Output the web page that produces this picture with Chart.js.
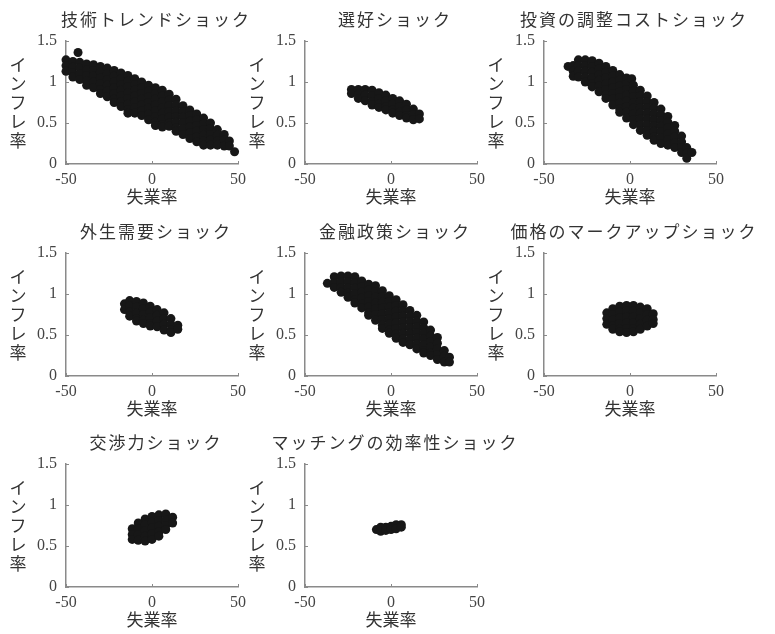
<!DOCTYPE html>
<html>
<head>
<meta charset="utf-8">
<script src="https://cdn.jsdelivr.net/npm/chart.js@4.4.1/dist/chart.umd.min.js"></script>
<style>
  body { margin: 0; background: #fff; overflow: hidden; }
  #wrap { position: relative; width: 775px; height: 634px; }
  canvas { position: absolute; }
</style>
</head>
<body>
<div id="wrap"></div>
<script>
// panel titles, in reading order
var titles = ['技術トレンドショック', '選好ショック', '投資の調整コストショック',
    '外生需要ショック', '金融政策ショック', '価格のマークアップショック',
    '交渉力ショック', 'マッチングの効率性ショック'];
var xLabel = '失業率';
var yLabel = ['イ', 'ン', 'フ', 'レ', '率'];
var xTicks = [-50, 0, 50];
var yTicks = [0, 0.5, 1, 1.5];

// scatter clouds: [unemployment, [inflation values...]]
var techTrend = [
    [-50, [1.27, 1.20, 1.13]], [-46, [1.25, 1.18, 1.11, 1.06]], [-43, [1.36]],
    [-42, [1.24, 1.17, 1.10, 1.03]], [-38, [1.22, 1.15, 1.08, 1.01, 0.96]],
    [-34, [1.21, 1.14, 1.07, 1.00, 0.93]], [-30, [1.19, 1.12, 1.05, 0.98, 0.91, 0.86]],
    [-26, [1.17, 1.10, 1.03, 0.96, 0.89, 0.82]], [-22, [1.14, 1.07, 1.00, 0.93, 0.86, 0.79, 0.75]],
    [-18, [1.11, 1.04, 0.97, 0.90, 0.83, 0.76, 0.70]], [-14, [1.08, 1.01, 0.94, 0.87, 0.80, 0.73, 0.66, 0.62]],
    [-10, [1.04, 0.97, 0.90, 0.83, 0.76, 0.69, 0.62]], [-6, [1.00, 0.93, 0.86, 0.79, 0.72, 0.65, 0.59]],
    [-2, [0.96, 0.89, 0.82, 0.75, 0.68, 0.61, 0.54]], [2, [0.93, 0.86, 0.79, 0.72, 0.65, 0.58, 0.51, 0.47]],
    [6, [0.90, 0.83, 0.76, 0.69, 0.62, 0.55, 0.48, 0.45]], [10, [0.85, 0.78, 0.71, 0.64, 0.57, 0.50, 0.46]],
    [14, [0.79, 0.72, 0.65, 0.58, 0.51, 0.44, 0.40]], [18, [0.71, 0.64, 0.57, 0.50, 0.43, 0.36]],
    [22, [0.66, 0.59, 0.52, 0.45, 0.38, 0.31]], [26, [0.61, 0.54, 0.47, 0.40, 0.33, 0.27]],
    [30, [0.56, 0.49, 0.42, 0.35, 0.28, 0.23]], [34, [0.50, 0.43, 0.36, 0.29, 0.23]],
    [38, [0.42, 0.35, 0.28, 0.23]], [42, [0.36, 0.29, 0.22]],
    [45, [0.28, 0.22]], [48, [0.15]]
];
var preference = [
    [-23, [0.91, 0.86]], [-19, [0.91, 0.85, 0.80]], [-15, [0.91, 0.84, 0.77]],
    [-11, [0.90, 0.83, 0.76, 0.72]], [-7, [0.87, 0.80, 0.73, 0.69]], [-3, [0.84, 0.77, 0.70, 0.66]],
    [1, [0.80, 0.73, 0.66, 0.62]], [5, [0.77, 0.70, 0.63, 0.59]], [9, [0.73, 0.66, 0.59, 0.56]],
    [13, [0.67, 0.60, 0.54]], [16.5, [0.61, 0.55]]
];
var adjustCost = [
    [-36, [1.19]], [-33, [1.20, 1.13, 1.07]], [-30, [1.27, 1.20, 1.13, 1.06]],
    [-26, [1.27, 1.20, 1.13, 1.06, 1.00]], [-22, [1.26, 1.19, 1.12, 1.05, 0.98, 0.94]],
    [-18, [1.23, 1.16, 1.09, 1.02, 0.95, 0.88]], [-14, [1.19, 1.12, 1.05, 0.98, 0.91, 0.84, 0.80]],
    [-10, [1.14, 1.07, 1.00, 0.93, 0.86, 0.79, 0.72]], [-6, [1.09, 1.02, 0.95, 0.88, 0.81, 0.74, 0.67, 0.63]],
    [-2, [1.05, 0.98, 0.91, 0.84, 0.77, 0.70, 0.63, 0.56]], [1, [1.04]],
    [2, [0.96, 0.89, 0.82, 0.75, 0.68, 0.61, 0.54, 0.48]], [6, [0.90, 0.83, 0.76, 0.69, 0.62, 0.55, 0.48, 0.41]],
    [10, [0.83, 0.76, 0.69, 0.62, 0.55, 0.48, 0.41, 0.35]], [14, [0.75, 0.68, 0.61, 0.54, 0.47, 0.40, 0.33, 0.29]],
    [18, [0.67, 0.60, 0.53, 0.46, 0.39, 0.32, 0.25]], [22, [0.58, 0.51, 0.44, 0.37, 0.30, 0.23]],
    [26, [0.47, 0.40, 0.33, 0.26, 0.20]], [30, [0.34, 0.27, 0.20, 0.14]],
    [33, [0.20, 0.13, 0.07]], [36, [0.14]]
];
var demand = [
    [-16, [0.88, 0.81]], [-13, [0.92, 0.85, 0.78, 0.73]], [-9, [0.91, 0.84, 0.77, 0.70, 0.67]],
    [-5, [0.89, 0.82, 0.75, 0.68, 0.64]], [-1, [0.85, 0.78, 0.71, 0.64, 0.61]],
    [3, [0.81, 0.74, 0.67, 0.60]], [7, [0.77, 0.70, 0.63, 0.56]], [11, [0.70, 0.63, 0.56, 0.53]],
    [15, [0.62, 0.57]]
];
var monetary = [
    [-37, [1.13]], [-33, [1.21, 1.14, 1.08]], [-29, [1.22, 1.15, 1.08, 1.02]],
    [-25, [1.22, 1.15, 1.08, 1.01, 0.96]], [-21, [1.21, 1.14, 1.07, 1.00, 0.93, 0.89]],
    [-17, [1.16, 1.09, 1.02, 0.95, 0.88, 0.83]], [-13, [1.12, 1.05, 0.98, 0.91, 0.84, 0.77, 0.74]],
    [-9, [1.10, 1.03, 0.96, 0.89, 0.82, 0.75, 0.68]], [-5, [1.04, 0.97, 0.90, 0.83, 0.76, 0.69, 0.62, 0.58]],
    [-1, [0.98, 0.91, 0.84, 0.77, 0.70, 0.63, 0.56, 0.52]], [3, [0.93, 0.86, 0.79, 0.72, 0.65, 0.58, 0.51, 0.46]],
    [7, [0.87, 0.80, 0.73, 0.66, 0.59, 0.52, 0.45, 0.41]], [11, [0.80, 0.73, 0.66, 0.59, 0.52, 0.45, 0.38]],
    [15, [0.74, 0.67, 0.60, 0.53, 0.46, 0.39, 0.33]], [19, [0.66, 0.59, 0.52, 0.45, 0.38, 0.31, 0.28]],
    [23, [0.56, 0.49, 0.42, 0.35, 0.28, 0.25]], [27, [0.47, 0.40, 0.33, 0.26, 0.20]],
    [31, [0.31, 0.24, 0.17]], [34, [0.23, 0.17]]
];
var markup = [
    [-13.5, [0.77, 0.70, 0.63]], [-10, [0.82, 0.75, 0.68, 0.61, 0.57]],
    [-6, [0.85, 0.78, 0.71, 0.64, 0.57, 0.54]], [-2, [0.86, 0.79, 0.72, 0.65, 0.58, 0.53]],
    [2, [0.86, 0.79, 0.72, 0.65, 0.58, 0.54]], [6, [0.84, 0.77, 0.70, 0.63, 0.57]],
    [10, [0.82, 0.75, 0.68, 0.61]], [13.5, [0.76, 0.69, 0.64]]
];
var bargaining = [
    [-11.5, [0.71, 0.64, 0.58]], [-8, [0.78, 0.71, 0.64, 0.57]], [-4, [0.83, 0.76, 0.69, 0.62, 0.56]],
    [0, [0.86, 0.79, 0.72, 0.65, 0.58]], [4, [0.88, 0.81, 0.74, 0.67, 0.62]],
    [8, [0.89, 0.82, 0.75, 0.70]], [12, [0.85, 0.78]]
];
var matching = [
    [-8.5, [0.70]], [-6, [0.73, 0.68]], [-3, [0.73, 0.69]], [0, [0.74, 0.70]],
    [3, [0.76, 0.71]], [6, [0.76, 0.73]]
];

var panels = [techTrend, preference, adjustCost, demand, monetary, markup, bargaining, matching];

var colLeft = [66, 305, 544];
var rowTop = [41, 253, 464];

function toPoints(cols) {
    var pts = [];
    for (var i in cols) {
        for (var j in cols[i][1]) {
            pts.push({ x: cols[i][0], y: cols[i][1][j] });
        }
    }
    return pts;
}

// title, stacked y label and the small inward tick marks
var panelText = {
    id: 'panelText',
    afterDraw: function (chart, args, opts) {
        var ctx = chart.ctx;
        var area = chart.chartArea;
        ctx.save();
        ctx.fillStyle = '#333';
        ctx.textAlign = 'center';
        ctx.textBaseline = 'middle';
        ctx.font = '17px "Noto Sans CJK JP"';
        ctx.letterSpacing = '2px';
        ctx.fillText(opts.title, (area.left + area.right) / 2 + 4, area.top - 21);
        ctx.letterSpacing = '0px';
        var mid = (area.top + area.bottom) / 2;
        for (var k = 0; k < yLabel.length; k++) {
            ctx.fillText(yLabel[k], area.left - 48, mid + (k - 2) * 19);
        }
        ctx.strokeStyle = '#8a8a8a';
        ctx.lineWidth = 1;
        var xs = chart.scales.x, ys = chart.scales.y;
        for (var a in yTicks) {
            var py = Math.round(ys.getPixelForValue(yTicks[a])) + 0.5;
            ctx.beginPath(); ctx.moveTo(area.left, py); ctx.lineTo(area.left + 3, py); ctx.stroke();
        }
        for (var b in xTicks) {
            var px = Math.round(xs.getPixelForValue(xTicks[b])) + 0.5;
            ctx.beginPath(); ctx.moveTo(px, area.bottom); ctx.lineTo(px, area.bottom - 3); ctx.stroke();
        }
        ctx.restore();
    }
};

function renderPanel(i) {
    var col = i % 3, row = Math.floor(i / 3);
    var cv = document.createElement('canvas');
    cv.width = 294;
    cv.height = 212;
    cv.style.left = (colLeft[col] - 66) + 'px';
    cv.style.top = (rowTop[row] - 41) + 'px';
    document.getElementById('wrap').appendChild(cv);

    var tickFont = { family: '"Liberation Serif", "Noto Sans CJK JP"', size: 16 };
    new Chart(cv.getContext('2d'), {
        type: 'scatter',
        data: {
            datasets: [{
                data: toPoints(panels[i]),
                backgroundColor: '#171717',
                borderWidth: 0,
                pointRadius: 4.5,
                pointHoverRadius: 4.5,
                clip: false
            }]
        },
        options: {
            responsive: false,
            animation: false,
            events: [],
            layout: { padding: { top: 41, left: 0, right: 56, bottom: 0 } },
            plugins: {
                legend: { display: false },
                tooltip: { enabled: false },
                panelText: { title: titles[i] }
            },
            scales: {
                x: {
                    type: 'linear', min: -50, max: 50, z: 1,
                    afterBuildTicks: function (s) { s.ticks = xTicks.map(function (v) { return { value: v }; }); },
                    afterFit: function (s) { s.height = 48; },
                    grid: { display: false, drawTicks: false },
                    border: { display: true, color: '#8a8a8a', width: 1.5 },
                    ticks: { color: '#444', font: tickFont, padding: 6, maxRotation: 0, autoSkip: false,
                        callback: function (v) { return String(v); } },
                    title: { display: true, text: xLabel, color: '#333',
                        font: { family: '"Noto Sans CJK JP"', size: 17 }, padding: { top: 0, bottom: 5 } }
                },
                y: {
                    type: 'linear', min: 0, max: 1.5, z: 1,
                    afterBuildTicks: function (s) { s.ticks = yTicks.map(function (v) { return { value: v }; }); },
                    afterFit: function (s) { s.width = 66; },
                    grid: { display: false, drawTicks: false },
                    border: { display: true, color: '#8a8a8a', width: 1.5 },
                    ticks: { color: '#444', font: tickFont, padding: 9,
                        callback: function (v) { return String(v); } }
                }
            }
        },
        plugins: [panelText]
    });
}

for (var i = 0; i < panels.length; i++) {
    renderPanel(i);
}
</script>
</body>
</html>
